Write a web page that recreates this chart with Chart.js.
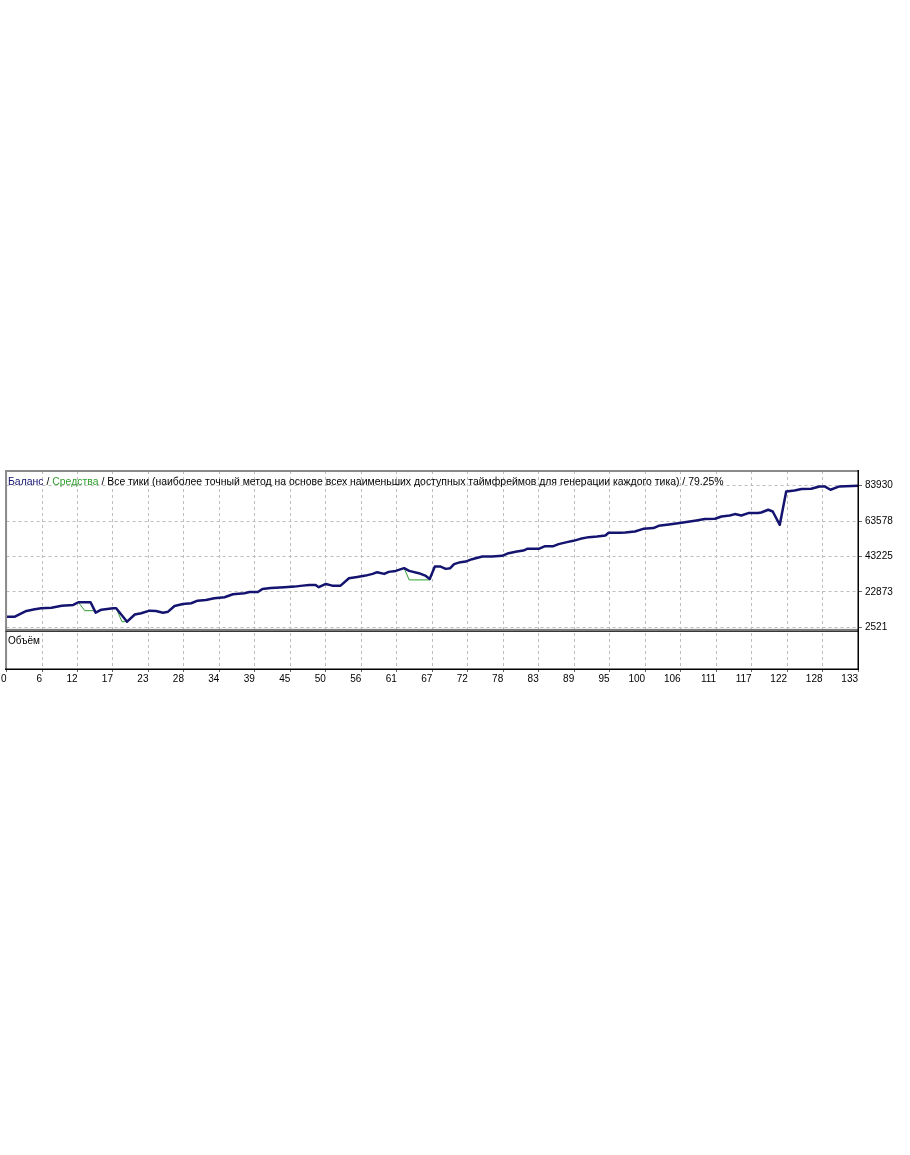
<!DOCTYPE html>
<html><head><meta charset="utf-8">
<script src="https://cdn.jsdelivr.net/npm/chart.js@4/dist/chart.umd.min.js"></script>
<style>
html,body{margin:0;padding:0;background:#fff;width:910px;height:1155px;overflow:hidden;}
#wrap{position:absolute;left:0;top:460px;width:910px;height:240px;}
.lbl{position:absolute;font-family:"Liberation Sans",Arial,sans-serif;font-size:10px;line-height:12px;white-space:nowrap;color:#000;}
</style></head><body>
<div id="wrap"><canvas id="c"></canvas></div>
<div class="lbl" style="left:8px;top:475.5px;font-size:10.45px;"><span style="color:#141470">Баланс</span> / <span style="color:#2e9e2e">Средства</span> / Все тики (наиболее точный метод на основе всех наименьших доступных таймфреймов для генерации каждого тика) / 79.25%</div>
<div class="lbl" style="left:8px;top:635px;">Объём</div>
<script>
// ---- data ----
const tradeNo = [0,1.3,3.1,4.4,5.4,7.0,8.6,10.4,11.2,13.1,
 13.9,14.8,16.6,17.1,18.8,20.0,21.0,22.3,23.3,24.4,
 25.2,26.2,27.5,28.8,29.8,31.1,32.4,34.0,35.3,37.1,
 37.9,39.2,39.9,41.2,43.3,44.9,46.2,47.2,48.2,48.7,
 49.8,50.8,52.1,53.4,54.7,56.0,57.1,57.8,58.9,59.6,
 60.7,62.0,62.8,64.3,65.3,66.0,66.8,67.7,68.5,69.2,
 69.8,70.8,71.6,72.6,74.2,75.7,77.3,78.3,79.6,80.6,
 81.2,83.0,84.0,85.3,86.1,87.4,88.4,89.5,90.8,92.1,
 93.4,93.9,95.7,96.5,98.0,99.3,100.9,101.7,103.3,105.0,
 106.3,107.6,108.9,110.5,111.5,112.8,113.6,114.6,115.7,117.2,
 117.7,118.8,119.5,120.6,121.6,122.9,124.0,125.5,126.8,127.6,
 128.5,129.9,132.8];
const balance = [8630,8630,11910,12890,13470,13810,14960,15370,16920,16920,
 10930,12660,13470,13470,5750,9900,10590,12080,11910,10930,
 11510,14790,15940,16350,17840,18250,19230,19800,21530,22110,
 22860,22860,24580,25160,25560,25910,26480,26890,26890,25560,
 27460,26480,26480,30750,31500,32240,33220,34200,33220,34380,
 34950,36510,34950,33630,32240,30340,37430,37430,36110,36510,
 38810,39960,40310,41690,43190,43190,43590,45150,46070,46650,
 47620,47620,49180,49180,50330,51480,52230,53380,54360,54710,
 55280,56840,56840,57010,57590,59140,59550,60870,61620,62430,
 63180,63930,64730,64900,66230,66800,67610,66800,68190,68190,
 68530,70090,69110,61450,80630,81210,82010,82190,83510,83510,
 81610,83510,83920];
// equity where it departs from balance (null = gap, hidden under balance)
const eqTradeNo = [11.2,12.2,13.5,13.9, 15.5, 17.1,18.0,18.8, 40, 62.0,62.8,65.9,66.0];
const equity    = [16920,12080,12080,10930, null, 13470,5750,5750, null, 36510,29770,29770,30340];
const xTickLabels = [0,6,12,17,23,28,34,39,45,50,56,61,67,72,78,83,89,95,100,106,111,117,122,128,133];
const yTickLabels = [2521,22873,43225,63578,83930];
const X_MAX = 132.8, Y_MIN = 1314, Y_MAX = 92381;

const gridColor = '#bdbdbd';
const framePlugin = {
  id:'frame',
  afterDraw(chart){
    const ctx = chart.ctx, a = chart.chartArea, yv = chart.scales.yv, y = chart.scales.y;
    ctx.save();
    ctx.fillStyle = '#8a8a8a';
    ctx.fillRect(a.left-1, a.top-1, a.right-a.left+1, 2);
    ctx.fillRect(a.left-1.5, a.top-1, 2, a.bottom-a.top+1);
    const sy = Math.min(y.bottom, yv.top);
    ctx.fillStyle = '#7a7a7a';
    ctx.fillRect(a.left-1, sy-0.5, a.right-a.left+1, 2);
    ctx.fillStyle = '#222';
    ctx.fillRect(a.left-1, sy+1.5, a.right-a.left+1, 1);
    ctx.fillStyle = '#000';
    ctx.fillRect(a.right-0.5, a.top-1, 1.5, a.bottom-a.top+1.5);
    ctx.fillRect(a.left-1.5, a.bottom-0.5, a.right-a.left+2.5, 1.5);
    ctx.restore();
  }
};

new Chart(document.getElementById('c'), {
  type:'line',
  data:{datasets:[
    {label:'Баланс', data: tradeNo.map((x,i)=>({x:x, y:balance[i]})), borderColor:'#141470', borderWidth:2.5,
     pointRadius:0, tension:0, yAxisID:'y', borderJoinStyle:'round'},
    {label:'Средства', data: eqTradeNo.map((x,i)=>({x:x, y:equity[i]})), borderColor:'#2e9e2e', borderWidth:1,
     pointRadius:0, tension:0, spanGaps:false, yAxisID:'y'}
  ]},
  options:{
    responsive:true, maintainAspectRatio:false, animation:false, devicePixelRatio:1,
    layout:{padding:{left:5, top:11, right:0, bottom:0}},
    plugins:{legend:{display:false}, tooltip:{enabled:false}},
    scales:{
      x:{type:'linear', min:0, max:X_MAX, position:'bottom',
        afterBuildTicks(s){ s.ticks = xTickLabels.map((l,i)=>({value:i*X_MAX/(xTickLabels.length-1)})); },
        afterFit(s){ s.height = 31; },
        ticks:{autoSkip:false, maxRotation:0, align:'end', padding:1, color:'#000',
          font:{family:'"Liberation Sans", Arial, sans-serif', size:10},
          callback(v,i){ return String(xTickLabels[i]); }},
        grid:{color:gridColor, lineWidth:1, drawTicks:true, tickLength:3, tickColor:'#666', tickBorderDash:[]},
        border:{display:false, dash:[3,3]}
      },
      y:{type:'linear', position:'right', stack:'panes', stackWeight:4, min:Y_MIN, max:Y_MAX,
        afterBuildTicks(s){ s.ticks = yTickLabels.map(v=>({value:v})); },
        afterFit(s){ s.width = 52; },
        ticks:{padding:3, color:'#000', font:{family:'"Liberation Sans", Arial, sans-serif', size:10},
          callback(v){ return String(v); }},
        grid:{color:gridColor, lineWidth:1, drawTicks:true, tickLength:4, tickColor:'#666', tickBorderDash:[]},
        border:{display:false, dash:[3,3]}
      },
      yv:{type:'linear', position:'right', stack:'panes', stackWeight:1, min:0, max:1,
        afterFit(s){ s.width = 52; },
        ticks:{display:false}, grid:{display:false}, border:{display:false}
      }
    }
  },
  plugins:[framePlugin]
});
</script>
</body></html>
